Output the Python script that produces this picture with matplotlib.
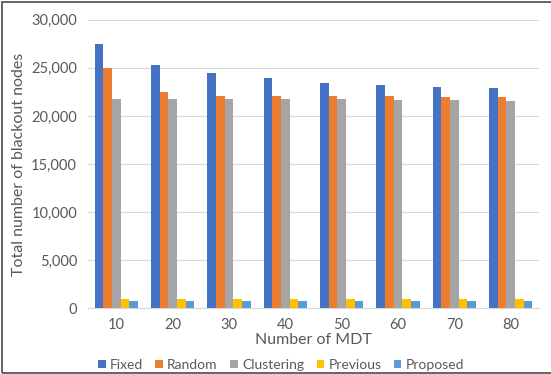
import numpy as np
import matplotlib.pyplot as plt
from matplotlib.patches import Rectangle

plt.rcParams['font.family'] = ['Lato', 'DejaVu Sans']

# --- DATA ---
mdt = ['10', '20', '30', '40', '50', '60', '70', '80']
fixed = [27500, 25300, 24500, 23900, 23400, 23200, 23000, 22900]
random_ = [25000, 22500, 22100, 22050, 22050, 22050, 22000, 22000]
clustering = [21750, 21750, 21750, 21750, 21750, 21700, 21650, 21600]
previous = [1000, 1000, 1000, 1000, 1000, 1000, 1000, 1000]
proposed = [700, 700, 700, 700, 700, 700, 700, 700]

series = [('Fixed', fixed, '#4472C4'),
          ('Random', random_, '#ED7D31'),
          ('Clustering', clustering, '#A5A5A5'),
          ('Previous', previous, '#FFC000'),
          ('Proposed', proposed, '#5B9BD5')]

TEXT = '#595959'

fig = plt.figure(figsize=(5.51, 3.74), dpi=100)
ax = fig.add_axes([0.16, 0.176, 0.818, 0.771])

x = np.arange(len(mdt))
width = 0.154
for k, (name, vals, color) in enumerate(series):
    ax.bar(x + (k - 2) * width, vals, width, color=color, label=name, zorder=3)

ax.set_xlim(-0.5, len(mdt) - 0.5)
ax.set_ylim(0, 30000)
ax.set_yticks(np.arange(0, 30001, 5000))
ax.yaxis.set_major_formatter(plt.FuncFormatter(lambda v, p: f'{int(v):,}'))
ax.set_xticks(x)
ax.set_xticklabels(mdt)
ax.grid(axis='y', color='#D9D9D9', linewidth=0.8, zorder=0)
for side in ['top', 'right', 'left']:
    ax.spines[side].set_visible(False)
ax.spines['bottom'].set_color('#D9D9D9')
ax.tick_params(axis='both', length=0, colors=TEXT, labelsize=10.5)
ax.tick_params(axis='x', pad=7)
ax.tick_params(axis='y', pad=8)

ax.set_xlabel('Number of MDT', color=TEXT, fontsize=11.5, labelpad=1)
ax.set_ylabel('Total number of blackout nodes', color=TEXT, fontsize=11.5, labelpad=4)

leg = fig.legend(loc='center', bbox_to_anchor=(0.51, 0.025), ncol=5, frameon=False,
                 fontsize=10, handlelength=0.55, handleheight=0.55, handletextpad=0.3,
                 columnspacing=0.9)
for t in leg.get_texts():
    t.set_color(TEXT)

# frame around the figure (right edge falls outside the canvas)
fig.patches.append(Rectangle((0.004, 0.004), 1.1, 0.99, transform=fig.transFigure,
                             fill=False, edgecolor='#595959', linewidth=1.3))

fig.savefig('out.png', dpi=100)
